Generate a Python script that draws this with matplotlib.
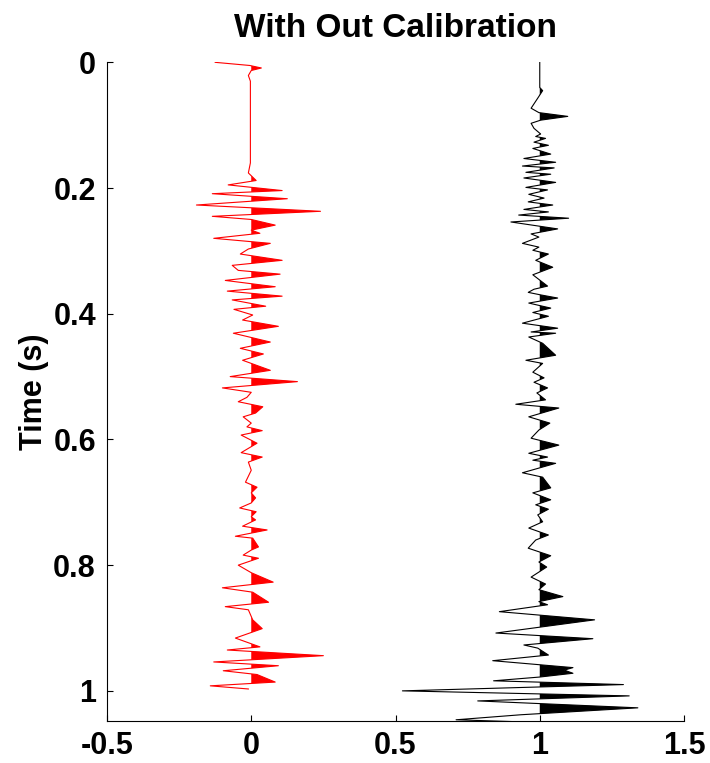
import numpy as np
import matplotlib
matplotlib.use("Agg")
import matplotlib.pyplot as plt

# red trace (offset 0): time (s), amplitude
red_t = [0.000, 0.005, 0.009, 0.013, 0.021, 0.030, 0.160, 0.176, 0.188, 0.195,
         0.204, 0.209, 0.217, 0.227, 0.237, 0.245, 0.250, 0.259, 0.267, 0.272,
         0.280, 0.288, 0.297, 0.305, 0.315, 0.323, 0.331, 0.337, 0.347, 0.357,
         0.364, 0.372, 0.378, 0.388, 0.393, 0.402, 0.410, 0.420, 0.431, 0.445,
         0.455, 0.464, 0.474, 0.490, 0.500, 0.508, 0.518, 0.525, 0.533, 0.540,
         0.548, 0.558, 0.564, 0.574, 0.580, 0.586, 0.593, 0.606, 0.621, 0.628,
         0.636, 0.649, 0.668, 0.676, 0.685, 0.693, 0.701, 0.709, 0.715, 0.723,
         0.728, 0.738, 0.744, 0.754, 0.757, 0.771, 0.776, 0.784, 0.789, 0.800,
         0.812, 0.827, 0.836, 0.843, 0.859, 0.866, 0.871, 0.887, 0.901, 0.916,
         0.930, 0.935, 0.944, 0.954, 0.960, 0.968, 0.974, 0.986, 0.992, 0.997]
red_a = [-0.125, -0.005, 0.035, 0.000, -0.010, -0.003, -0.003, -0.010, 0.017, -0.080,
         0.107, -0.135, 0.125, -0.190, 0.240, -0.135, 0.000, 0.083, 0.000, 0.030,
         -0.130, 0.066, -0.010, -0.038, 0.107, -0.066, -0.045, 0.100, -0.090, 0.083,
         -0.083, 0.107, -0.066, 0.050, -0.060, 0.005, -0.030, 0.094, -0.062, 0.066,
         -0.038, 0.042, -0.030, 0.066, -0.073, 0.160, -0.100, 0.000, -0.015, -0.045,
         0.040, 0.015, -0.028, 0.000, -0.015, 0.038, -0.035, 0.020, -0.035, 0.038,
         -0.010, 0.000, -0.020, 0.020, 0.000, 0.015, 0.000, -0.040, 0.017, 0.000,
         0.015, -0.030, 0.055, -0.055, 0.005, 0.025, 0.000, -0.028, 0.025, -0.045,
         0.000, 0.076, -0.100, 0.005, 0.060, -0.090, -0.010, 0.005, 0.038, -0.055,
         0.030, -0.083, 0.250, -0.130, 0.094, -0.097, 0.020, 0.083, -0.142, -0.010]

# black trace (offset 1): time (s), amplitude
blk_t = [0.000, 0.040, 0.045, 0.057, 0.073, 0.080, 0.086, 0.092, 0.097, 0.105,
         0.114, 0.118, 0.121, 0.127, 0.132, 0.137, 0.146, 0.153, 0.159, 0.165,
         0.168, 0.175, 0.178, 0.184, 0.191, 0.199, 0.203, 0.210, 0.216, 0.222,
         0.227, 0.234, 0.238, 0.243, 0.248, 0.254, 0.265, 0.273, 0.278, 0.288,
         0.294, 0.299, 0.305, 0.315, 0.326, 0.338, 0.356, 0.361, 0.366, 0.370,
         0.375, 0.383, 0.391, 0.398, 0.404, 0.415, 0.423, 0.429, 0.431, 0.437,
         0.447, 0.466, 0.474, 0.479, 0.493, 0.502, 0.509, 0.518, 0.526, 0.537,
         0.544, 0.550, 0.564, 0.574, 0.585, 0.598, 0.609, 0.622, 0.628, 0.633,
         0.638, 0.653, 0.660, 0.677, 0.685, 0.696, 0.704, 0.711, 0.720, 0.731,
         0.741, 0.752, 0.760, 0.773, 0.785, 0.795, 0.803, 0.819, 0.830, 0.839,
         0.850, 0.858, 0.863, 0.874, 0.887, 0.908, 0.917, 0.927, 0.932, 0.943,
         0.952, 0.963, 0.967, 0.972, 0.978, 0.984, 0.990, 1.000, 1.008, 1.016,
         1.027, 1.038, 1.046, 1.052]
blk_a = [0.000, 0.000, 0.010, -0.007, -0.030, -0.003, 0.097, 0.003, -0.030, -0.020,
         0.003, -0.014, 0.020, -0.020, 0.030, -0.024, 0.038, -0.055, 0.055, -0.060,
         0.050, -0.048, 0.038, -0.055, 0.055, -0.048, 0.027, -0.038, 0.015, -0.040,
         0.045, -0.055, 0.030, -0.073, 0.100, -0.100, 0.062, -0.030, -0.003, -0.060,
         -0.003, -0.024, 0.030, -0.014, 0.045, -0.024, 0.027, -0.020, -0.040, 0.003,
         0.062, -0.038, 0.038, -0.024, 0.030, -0.060, 0.062, -0.030, 0.055, -0.038,
         0.010, 0.055, -0.048, 0.010, -0.024, 0.015, -0.020, 0.027, -0.010, 0.020,
         -0.083, 0.066, -0.038, 0.035, -0.003, -0.030, 0.066, -0.038, 0.027, -0.024,
         0.055, -0.060, 0.010, 0.038, -0.024, 0.038, -0.014, 0.030, -0.007, 0.010,
         -0.038, 0.030, -0.014, -0.040, 0.038, -0.003, 0.024, -0.030, 0.020, -0.003,
         0.080, -0.003, 0.027, -0.140, 0.190, -0.152, 0.184, -0.055, -0.007, 0.030,
         -0.163, 0.115, 0.085, 0.115, 0.000, -0.160, 0.290, -0.476, 0.310, -0.215,
         0.340, -0.065, -0.290, 0.120]

offsets = [0, 1]
colors = ['red', 'black']

plt.rcParams['font.family'] = ['Liberation Sans', 'DejaVu Sans']
plt.rcParams['font.weight'] = 'bold'

fig = plt.figure(figsize=(7.1, 7.63), dpi=100)
ax = fig.add_axes([0.1507, 0.055, 0.8127, 0.8633])

for (t, a), off, c in zip([(red_t, red_a), (blk_t, blk_a)], offsets, colors):
    t = np.array(t)
    a = np.array(a)
    ax.plot(off + a, t, color=c, lw=0.8)
    ax.fill_betweenx(t, off, off + a, where=a > 0, interpolate=True,
                     color=c, lw=0)

ax.set_xlim(-0.5, 1.5)
ax.set_ylim(1.048, 0)
ax.set_xticks([-0.5, 0, 0.5, 1, 1.5])
ax.set_xticklabels(['-0.5', '0', '0.5', '1', '1.5'])
ax.set_yticks([0, 0.2, 0.4, 0.6, 0.8, 1])
ax.set_yticklabels(['0', '0.2', '0.4', '0.6', '0.8', '1'])
ax.spines['top'].set_visible(False)
ax.spines['right'].set_visible(False)
ax.tick_params(direction='in', length=4.5, width=0.8, labelsize=22)
ax.tick_params(axis='y', pad=8)
ax.tick_params(axis='x', pad=7)
ax.set_ylabel('Time (s)', fontsize=22, fontweight='bold', labelpad=3)
ax.set_title('With Out Calibration', fontsize=24, fontweight='bold', pad=18)

fig.savefig('out.png', dpi=100)
